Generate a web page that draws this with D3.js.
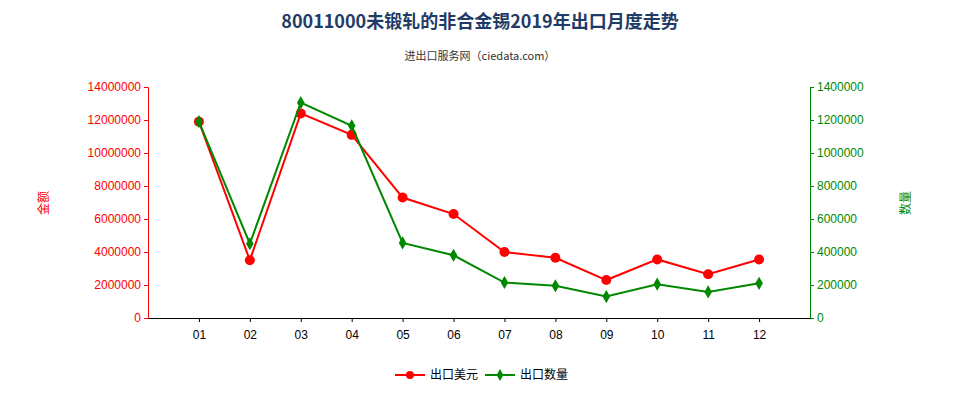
<!DOCTYPE html>
<html><head><meta charset="utf-8">
<script src="https://cdn.jsdelivr.net/npm/d3@7"></script>
<style>body{margin:0;background:#fff;font-family:"Noto Sans CJK SC","Noto Sans",sans-serif}</style>
</head><body><div id="chart"></div>
<script>
var months = ["01","02","03","04","05","06","07","08","09","10","11","12"];
var amount = [11900000,3500000,12400000,11100000,7300000,6300000,4000000,3650000,2300000,3550000,2650000,3550000];
var quantity = [1190000,450000,1305000,1165000,455000,380000,215000,195000,130000,205000,158000,210000];
var leftTicks = [0,2000000,4000000,6000000,8000000,10000000,12000000,14000000];
var rightTicks = [0,200000,400000,600000,800000,1000000,1200000,1400000];

var width = 960, height = 400;
var x0 = 148, x1 = 810, yTop = 87, yBot = 318;
var svg = d3.select("#chart").append("svg").attr("width", width).attr("height", height);

svg.append("text").attr("x", 480).attr("y", 28).attr("text-anchor", "middle")
    .attr("font-size", 18).attr("font-weight", "bold").attr("fill", "#1f3b66")
    .text("80011000未锻轧的非合金锡2019年出口月度走势");
svg.append("text").attr("x", 480).attr("y", 60).attr("text-anchor", "middle")
    .attr("font-size", 11).attr("fill", "#333").text("进出口服务网（ciedata.com）");

var x = d3.scalePoint().domain(months).range([x0, x1]).padding(1);
var yL = d3.scaleLinear().domain([0, 14000000]).range([yBot, yTop]);
var yR = d3.scaleLinear().domain([0, 1400000]).range([yBot, yTop]);

svg.append("g").attr("transform", "translate(" + x0 + ",0)")
    .call(d3.axisLeft(yL).tickValues(leftTicks).tickFormat(d3.format("d")).tickSize(4))
    .call(g => g.selectAll("text").attr("fill", "#f00").attr("font-size", 12))
    .call(g => g.selectAll("line,path").attr("stroke", "#f00"));
svg.append("g").attr("transform", "translate(" + x1 + ",0)")
    .call(d3.axisRight(yR).tickValues(rightTicks).tickFormat(d3.format("d")).tickSize(4))
    .call(g => g.selectAll("text").attr("fill", "#080").attr("font-size", 12))
    .call(g => g.selectAll("line,path").attr("stroke", "#080"));
svg.append("g").attr("transform", "translate(0," + yBot + ")")
    .call(d3.axisBottom(x).tickSize(4).tickSizeOuter(0))
    .call(g => g.selectAll("text").attr("fill", "#000").attr("font-size", 12).attr("dy", "1.2em"))
    .call(g => g.selectAll("line,path").attr("stroke", "#000"));

svg.append("text").attr("transform", "translate(48,203) rotate(-90)").attr("text-anchor", "middle")
    .attr("font-size", 12).attr("fill", "#f00").text("金额");
svg.append("text").attr("transform", "translate(910,203) rotate(-90)").attr("text-anchor", "middle")
    .attr("font-size", 12).attr("fill", "#080").text("数量");

var lineL = d3.line().x((d, i) => x(months[i])).y(d => yL(d));
var lineR = d3.line().x((d, i) => x(months[i])).y(d => yR(d));

svg.append("path").datum(amount).attr("d", lineL).attr("fill", "none").attr("stroke", "#f00").attr("stroke-width", 2);
svg.selectAll(".pa").data(amount).enter().append("circle")
    .attr("cx", (d, i) => x(months[i])).attr("cy", d => yL(d)).attr("r", 5).attr("fill", "#f00");

svg.append("path").datum(quantity).attr("d", lineR).attr("fill", "none").attr("stroke", "#080").attr("stroke-width", 2);
svg.selectAll(".pq").data(quantity).enter().append("path")
    .attr("transform", (d, i) => "translate(" + x(months[i]) + "," + yR(d) + ")")
    .attr("d", d3.symbol(d3.symbolDiamond, 50)).attr("fill", "#080");

var lg = svg.append("g").attr("transform", "translate(0,375)");
lg.append("line").attr("x1", 395).attr("x2", 425).attr("stroke", "#f00").attr("stroke-width", 2);
lg.append("circle").attr("cx", 410).attr("r", 4).attr("fill", "#f00");
lg.append("text").attr("x", 430).attr("y", 4).attr("font-size", 12).text("出口美元");
lg.append("line").attr("x1", 485).attr("x2", 515).attr("stroke", "#080").attr("stroke-width", 2);
lg.append("path").attr("transform", "translate(500,0)").attr("d", d3.symbol(d3.symbolDiamond, 40)).attr("fill", "#080");
lg.append("text").attr("x", 520).attr("y", 4).attr("font-size", 12).text("出口数量");
</script></body></html>
